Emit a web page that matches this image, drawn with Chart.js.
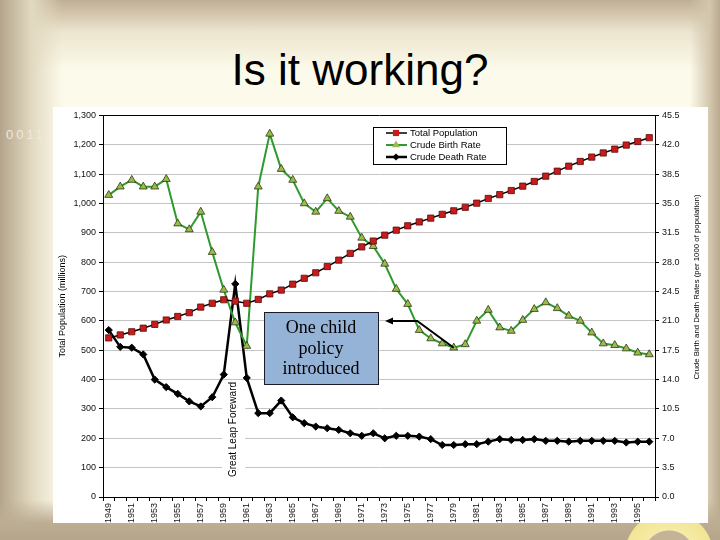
<!DOCTYPE html>
<html>
<head>
<meta charset="utf-8">
<script src="https://cdn.jsdelivr.net/npm/chart.js@4.4.1/dist/chart.umd.min.js"></script>
<style>
html,body{margin:0;padding:0;}
body{width:720px;height:540px;position:relative;overflow:hidden;background:#fcfaea;font-family:"Liberation Sans",Arial,sans-serif;}
.band{position:absolute;}
#top{left:0;top:0;width:720px;height:80px;background:linear-gradient(to bottom,#bfae96 0px,#d4c6ad 14px,#ece5cf 32px,rgba(252,250,234,0) 70px);}
#left{left:0;top:0;width:70px;height:540px;background:linear-gradient(to right,#b4a48a 0px,#c9bca3 14px,#e2d9c1 32px,rgba(252,250,234,0) 62px);}
#right{right:0;top:0;width:40px;height:540px;background:linear-gradient(to left,#b9a98f 0px,#d3c6ad 10px,rgba(252,250,234,0) 30px);}
#bottom{left:0;bottom:0;width:720px;height:40px;background:linear-gradient(to top,#b4a58b 0px,#bcad93 17px,rgba(200,188,165,0) 40px);}
#ring{left:624px;top:511px;width:90px;height:90px;border-radius:50%;background:radial-gradient(circle at center,#c4b397 0,#c4b397 25px,#f6eba6 26px,#f3e494 44px,rgba(243,228,148,0) 45px);}
#title{position:absolute;left:0;top:48px;width:720px;text-align:center;font-size:44px;line-height:44px;color:#000;font-family:"Liberation Sans",Arial,sans-serif;}
#code{position:absolute;left:6px;top:127px;font-size:13px;letter-spacing:3px;color:#efe9dc;}
#wrap{position:absolute;left:53px;top:107px;width:655px;height:416px;background:#fff;}
canvas{display:block;}
</style>
</head>
<body>
<div class="band" id="top"></div>
<div class="band" id="left"></div>
<div class="band" id="right"></div>
<div class="band" id="bottom"></div>
<div class="band" id="ring"></div>
<div id="title">Is it working?</div>
<div id="code">0011</div>
<div id="wrap"><canvas id="c" width="655" height="416"></canvas></div>
<script>
const years = ['1949','1950','1951','1952','1953','1954','1955','1956','1957','1958','1959','1960','1961','1962','1963','1964','1965','1966','1967','1968','1969','1970','1971','1972','1973','1974','1975','1976','1977','1978','1979','1980','1981','1982','1983','1984','1985','1986','1987','1988','1989','1990','1991','1992','1993','1994','1995','1996'];
const population = [542,552,563,575,588,603,615,628,647,660,672,667,660,673,692,705,725,745,764,785,807,830,852,872,892,909,924,937,950,963,975,987,1001,1017,1030,1044,1059,1075,1093,1110,1127,1143,1158,1172,1185,1199,1211,1224];
const birthRate = [36.0,37.0,37.8,37.0,37.0,37.9,32.6,31.9,34.0,29.2,24.7,20.8,18.0,37.0,43.3,39.1,37.8,35.0,34.0,35.6,34.1,33.4,30.9,29.9,27.8,24.8,23.0,19.9,18.9,18.3,17.8,18.2,21.0,22.3,20.2,19.8,21.1,22.4,23.2,22.5,21.6,21.0,19.6,18.3,18.1,17.7,17.2,17.0];
const deathRate = [19.9,17.9,17.8,17.0,14.0,13.1,12.3,11.4,10.8,11.9,14.6,25.4,14.2,10.0,10.0,11.5,9.5,8.8,8.4,8.2,8.0,7.6,7.3,7.6,7.0,7.3,7.3,7.2,6.9,6.2,6.2,6.3,6.3,6.6,6.9,6.8,6.8,6.9,6.7,6.7,6.6,6.7,6.7,6.7,6.7,6.5,6.6,6.6];
const seriesNames = ['Total Population','Crude Birth Rate','Crude Death Rate'];
const leftTicksMax = 1300, leftStep = 100;
const rightTicksMax = 45.5, rightStep = 3.5;
const leftTitle = 'Total Population (millions)';
const rightTitle = 'Crude Birth and Death Rates (per 1000 of population)';
const eventLabel = 'Great Leap Foreward';
const eventYear = '1960';
const policyLines = ['One child','policy','introduced'];
const policyYear = '1979';

const FONT = '"Liberation Sans", Arial, sans-serif';

const overlay = {
  id:'overlay',
  beforeDatasetsDraw(chart){
    const ctx = chart.ctx, x = chart.scales.x, y = chart.scales.y;
    const px = x.getPixelForValue(years.indexOf(eventYear)) - 2;
    const cy = y.getPixelForValue(230);
    ctx.save();
    ctx.fillStyle = '#fff';
    ctx.fillRect(px - 11, cy - 45, 23, 90);
    ctx.translate(px, cy);
    ctx.rotate(-Math.PI/2);
    ctx.font = '10px ' + FONT;
    ctx.fillStyle = '#000';
    ctx.textAlign = 'center';
    ctx.textBaseline = 'middle';
    ctx.fillText(eventLabel, 0, 0);
    ctx.restore();
  },
  afterDraw(chart){
    const ctx = chart.ctx, area = chart.chartArea;
    const xs = chart.scales.x, y2 = chart.scales.y2;
    ctx.save();
    // right axis title
    ctx.save();
    ctx.translate(area.right + 42, 180);
    ctx.rotate(-Math.PI/2);
    ctx.font = '7.8px ' + FONT;
    ctx.fillStyle = '#000';
    ctx.textAlign = 'center';
    ctx.textBaseline = 'middle';
    ctx.fillText(rightTitle, 0, 0);
    ctx.restore();

    // legend
    const lx = 320, ly = 20, lw = 133, lh = 37;
    ctx.fillStyle = '#fff';
    ctx.fillRect(lx, ly, lw, lh);
    ctx.strokeStyle = '#000';
    ctx.lineWidth = 1;
    ctx.strokeRect(lx + 0.5, ly + 0.5, lw, lh);
    chart.data.datasets.forEach((ds, i) => {
      const yy = ly + 6 + i * 12;
      ctx.strokeStyle = ds.borderColor;
      ctx.lineWidth = ds.borderWidth;
      ctx.beginPath();
      ctx.moveTo(lx + 13, yy);
      ctx.lineTo(lx + 34, yy);
      ctx.stroke();
      ctx.fillStyle = ds.pointBackgroundColor;
      ctx.strokeStyle = ds.pointBorderColor;
      ctx.lineWidth = ds.pointBorderWidth;
      Chart.helpers.drawPoint(ctx, {pointStyle: ds.pointStyle, rotation: 0, radius: ds.pointRadius}, lx + 23, yy);
      ctx.fillStyle = '#000';
      ctx.font = '9.5px ' + FONT;
      ctx.textAlign = 'left';
      ctx.textBaseline = 'middle';
      ctx.fillText(ds.label, lx + 37, yy + 0.5);
    });

    // policy box
    const bx = 211, by = 205, bw = 114, bh = 72;
    ctx.fillStyle = '#95b3d7';
    ctx.fillRect(bx, by, bw, bh);
    ctx.strokeStyle = '#1a1a2a';
    ctx.lineWidth = 1;
    ctx.strokeRect(bx + 0.5, by + 0.5, bw, bh);
    ctx.fillStyle = '#000';
    ctx.font = '18px "Liberation Serif", "Times New Roman", serif';
    ctx.textAlign = 'center';
    ctx.textBaseline = 'alphabetic';
    policyLines.forEach((t, i) => ctx.fillText(t, bx + bw/2, by + 21 + i * 20.7));

    // arrow
    const pi = years.indexOf(policyYear);
    const ex = xs.getPixelForValue(pi), ey = y2.getPixelForValue(birthRate[pi]);
    const elbowY = y2.getPixelForValue(21.0);
    const elbowX = xs.getPixelForValue(pi - 3) - 2;
    const tipX = bx + bw + 7;
    ctx.strokeStyle = '#000';
    ctx.lineWidth = 2;
    ctx.beginPath();
    ctx.moveTo(tipX + 5, elbowY);
    ctx.lineTo(elbowX, elbowY);
    ctx.lineTo(ex, ey);
    ctx.stroke();
    ctx.fillStyle = '#000';
    ctx.beginPath();
    ctx.moveTo(tipX, elbowY);
    ctx.lineTo(tipX + 8, elbowY - 3.5);
    ctx.lineTo(tipX + 8, elbowY + 3.5);
    ctx.closePath();
    ctx.fill();
    ctx.restore();
  }
};

const tickFont = {family: FONT, size: 9};
new Chart(document.getElementById('c'), {
  type: 'line',
  data: {
    labels: years,
    datasets: [
      {label: seriesNames[0], data: population, yAxisID: 'y', borderColor: '#000', borderWidth: 1.5,
       pointStyle: 'rect', pointRadius: 4.4, pointBackgroundColor: '#c81c1c', pointBorderColor: '#5a0a0a', pointBorderWidth: 0.8, tension: 0},
      {label: seriesNames[1], data: birthRate, yAxisID: 'y2', borderColor: '#2f9a2f', borderWidth: 2,
       pointStyle: 'triangle', pointRadius: 4.6, pointBackgroundColor: '#9cb94b', pointBorderColor: '#2a3a10', pointBorderWidth: 0.8, tension: 0},
      {label: seriesNames[2], data: deathRate, yAxisID: 'y2', borderColor: '#000', borderWidth: 2.5,
       pointStyle: 'rectRot', pointRadius: 3.6, pointBackgroundColor: '#000', pointBorderColor: '#000', pointBorderWidth: 1, tension: 0}
    ]
  },
  options: {
    responsive: false, animation: false, devicePixelRatio: 1,
    layout: {padding: {top: 7, left: 0, right: 0, bottom: 0}},
    plugins: {legend: {display: false}, tooltip: {enabled: false}},
    scales: {
      x: {
        type: 'category', offset: true,
        grid: {offset: true, drawOnChartArea: false, tickLength: 4, tickColor: '#000', tickWidth: 1},
        border: {color: '#000', width: 1},
        ticks: {autoSkip: false, minRotation: 90, maxRotation: 90, font: tickFont, color: '#111', padding: 2,
          callback: function(v, i){ return i % 2 === 0 ? this.getLabelForValue(v) : ''; }},
        afterFit: s => { s.height = 26; }
      },
      y: {
        position: 'left', min: 0, max: leftTicksMax,
        ticks: {stepSize: leftStep, font: tickFont, color: '#111', padding: 3,
          callback: v => v.toLocaleString('en-US')},
        grid: {color: c => (c.tick && c.tick.value === leftTicksMax) ? '#000' : '#c4c4c4', tickColor: '#000', tickLength: 4},
        border: {color: '#000', width: 1},
        title: {display: true, text: leftTitle, font: {family: FONT, size: 9}, color: '#000', padding: 4},
        afterFit: s => { s.width = 50; }
      },
      y2: {
        position: 'right', min: 0, max: rightTicksMax,
        ticks: {stepSize: rightStep, font: tickFont, color: '#111', padding: 3, callback: v => v.toFixed(1)},
        grid: {drawOnChartArea: false, tickColor: '#000', tickLength: 4},
        border: {color: '#000', width: 1},
        afterFit: s => { s.width = 53; }
      }
    }
  },
  plugins: [overlay]
});
</script>
</body>
</html>
